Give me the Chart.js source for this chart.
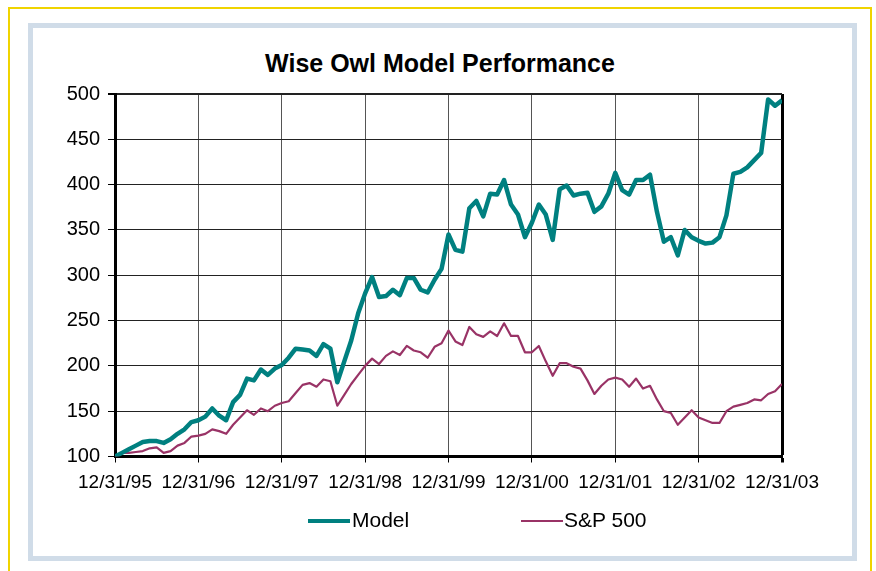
<!DOCTYPE html>
<html lang="en">
<head>
    <meta charset="UTF-8">
    <title>Wise Owl Model Performance</title>
    <script src="https://cdn.jsdelivr.net/npm/chart.js"></script>
    <style>
        body { margin: 0; background: #fff; font-family: "Liberation Sans", Arial, sans-serif; }
        .page { position: relative; width: 876px; height: 571px; overflow: hidden; }
        .outer { position: absolute; left: 8px; top: 7px; width: 860px; height: 600px; border: 2px solid #f0d400; }
        .frame { position: absolute; left: 28px; top: 23px; width: 819px; height: 528px; border: 5px solid #d0dce8; }
        .title { position: absolute; left: 0; top: 51px; width: 880px; text-align: center;
                 font-size: 25px; line-height: 25px; font-weight: bold; color: #000; }
        canvas { position: absolute; left: 0; top: 0; }
        .legend span { position: absolute; }
        .legend .swatch { height: 4px; width: 42px; }
        .legend .txt { font-size: 21px; line-height: 21px; color: #000; }
    </style>
</head>
<body>
<div class="page">
    <div class="outer"></div>
    <div class="frame"></div>
    <div class="title">Wise Owl Model Performance</div>
    <canvas id="perfChart" width="876" height="571"></canvas>
    <div class="legend">
        <span class="swatch" style="left:308px; top:519px; background:#008080;"></span>
        <span class="txt" style="left:352px; top:509px;">Model</span>
        <span class="swatch" style="left:521px; top:520px; height:2px; background:#993366;"></span>
        <span class="txt" style="left:564px; top:509px;">S&amp;P 500</span>
    </div>
</div>

<script>
    // month-end values, 12/31/95 .. 12/31/03 (both series start at 100)
    const yearTicks = ['12/31/95', '12/31/96', '12/31/97', '12/31/98', '12/31/99',
        '12/31/00', '12/31/01', '12/31/02', '12/31/03'];

    const model = [
        100, 104, 108, 112, 116, 117, 117, 115, 119, 125, 130, 138,
        140, 144, 153, 145, 140, 160, 168, 186, 184, 196, 190, 197,
        201, 209, 219, 218, 217, 211, 224, 219, 182, 205, 228, 258,
        280, 298, 276, 277, 284, 278, 297, 297, 284, 281, 295, 307,
        345, 328, 326, 374, 382, 365, 390, 389, 405, 378, 367, 342,
        358, 378, 367, 339, 395, 399, 388, 390, 391, 370, 376, 390,
        413, 394, 389, 405, 405, 411, 370, 337, 342, 322, 350, 342,
        338, 335, 336, 342, 366, 412, 414, 419, 427, 435, 494, 487,
        493
    ];

    const sp500 = [
        100, 104, 104, 105, 106, 109, 110, 104, 106, 112, 115, 122,
        123, 125, 130, 128, 125, 135, 143, 151, 146, 153, 150, 156,
        159, 161, 170, 179, 181, 177, 185, 183, 156, 168, 180, 190,
        200, 208, 202, 211, 216, 212, 222, 217, 215, 209, 221, 225,
        239, 227, 223, 243, 235, 232, 238, 233, 247, 233, 233, 215,
        215, 222, 205, 189, 203, 203, 199, 197, 184, 169, 178, 185,
        187, 185, 177, 186, 175, 178, 163, 150, 148, 135, 143, 151,
        143, 140, 137, 137, 150, 155, 157, 159, 163, 162, 169, 172,
        180
    ];

    const months = model.map((_, i) => i);
    const font = '"Liberation Sans", Arial, sans-serif';

    const ctx = document.getElementById('perfChart').getContext('2d');
    const chart = new Chart(ctx, {
        type: 'line',
        data: {
            labels: months,
            datasets: [{
                label: 'Model',
                data: model,
                borderColor: '#008080',
                borderWidth: 4.5,
                borderJoinStyle: 'round',
                pointRadius: 0,
                tension: 0
            }, {
                label: 'S&P 500',
                data: sp500,
                borderColor: '#993366',
                borderWidth: 2.2,
                borderJoinStyle: 'round',
                pointRadius: 0,
                tension: 0
            }]
        },
        options: {
            responsive: false,
            animation: false,
            layout: { padding: { left: 10, right: 94, top: 94, bottom: 0 } },
            plugins: {
                legend: { display: false },
                tooltip: { enabled: false }
            },
            scales: {
                x: {
                    type: 'linear',
                    min: 0,
                    max: 96,
                    afterFit: s => { s.height = 114.5; },
                    border: { display: true, color: '#000', width: 3 },
                    grid: {
                        color: c => c.tick && c.tick.value === 96 ? '#000' : '#555',
                        lineWidth: c => c.tick && c.tick.value === 96 ? 3 : 1,
                        tickColor: '#000',
                        tickLength: 6
                    },
                    ticks: {
                        stepSize: 12,
                        autoSkip: false,
                        maxRotation: 0,
                        padding: 9,
                        color: '#000',
                        font: { family: font, size: 19 },
                        callback: v => yearTicks[v / 12]
                    }
                },
                y: {
                    min: 100,
                    max: 500,
                    afterFit: s => { s.width = 105; },
                    border: { display: true, color: '#000', width: 3 },
                    grid: {
                        color: '#222',
                        lineWidth: c => c.tick && c.tick.value === 500 ? 2 : 1,
                        tickColor: '#000',
                        tickLength: 7
                    },
                    ticks: {
                        stepSize: 50,
                        padding: 8,
                        color: '#000',
                        font: { family: font, size: 20 }
                    }
                }
            }
        }
    });
</script>
</body>
</html>
